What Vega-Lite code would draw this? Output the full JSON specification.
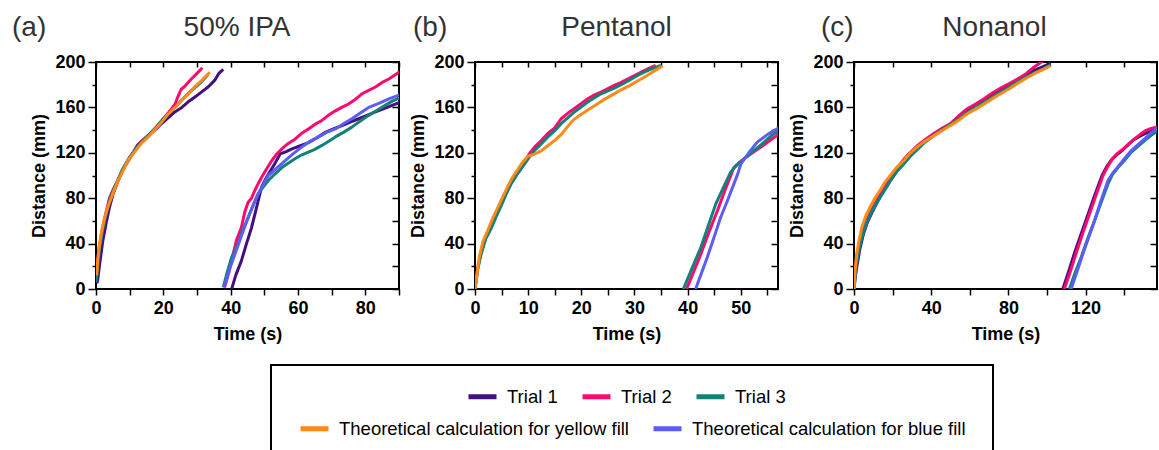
{
  "$schema": "https://vega.github.io/schema/vega-lite/v6.json",
  "background": "white",
  "padding": {"left": 11, "top": 12, "right": 1, "bottom": 0},
  "datasets": {
    "runs": [
      {"panel":"a","series":"Trial 1","fill":"yellow","time":0.3,"distance":5},
      {"panel":"a","series":"Trial 1","fill":"yellow","time":0.6,"distance":10},
      {"panel":"a","series":"Trial 1","fill":"yellow","time":1,"distance":20},
      {"panel":"a","series":"Trial 1","fill":"yellow","time":2,"distance":42},
      {"panel":"a","series":"Trial 1","fill":"yellow","time":3,"distance":58},
      {"panel":"a","series":"Trial 1","fill":"yellow","time":4,"distance":72},
      {"panel":"a","series":"Trial 1","fill":"yellow","time":5,"distance":83},
      {"panel":"a","series":"Trial 1","fill":"yellow","time":6.5,"distance":95},
      {"panel":"a","series":"Trial 1","fill":"yellow","time":8,"distance":105},
      {"panel":"a","series":"Trial 1","fill":"yellow","time":10,"distance":115},
      {"panel":"a","series":"Trial 1","fill":"yellow","time":12.4,"distance":127},
      {"panel":"a","series":"Trial 1","fill":"yellow","time":13.5,"distance":130},
      {"panel":"a","series":"Trial 1","fill":"yellow","time":15.4,"distance":135},
      {"panel":"a","series":"Trial 1","fill":"yellow","time":17.5,"distance":140},
      {"panel":"a","series":"Trial 1","fill":"yellow","time":19.4,"distance":145.6},
      {"panel":"a","series":"Trial 1","fill":"yellow","time":21.5,"distance":151},
      {"panel":"a","series":"Trial 1","fill":"yellow","time":23.4,"distance":156},
      {"panel":"a","series":"Trial 1","fill":"yellow","time":25.5,"distance":160},
      {"panel":"a","series":"Trial 1","fill":"yellow","time":27.3,"distance":164.7},
      {"panel":"a","series":"Trial 1","fill":"yellow","time":29.3,"distance":169},
      {"panel":"a","series":"Trial 1","fill":"yellow","time":31.3,"distance":173.5},
      {"panel":"a","series":"Trial 1","fill":"yellow","time":33.3,"distance":178},
      {"panel":"a","series":"Trial 1","fill":"yellow","time":35.3,"distance":184},
      {"panel":"a","series":"Trial 1","fill":"yellow","time":36.5,"distance":190},
      {"panel":"a","series":"Trial 1","fill":"yellow","time":37.8,"distance":193.5},
      {"panel":"a","series":"Trial 1","fill":"blue","time":40.3,"distance":0},
      {"panel":"a","series":"Trial 1","fill":"blue","time":41.5,"distance":12},
      {"panel":"a","series":"Trial 1","fill":"blue","time":43.2,"distance":25},
      {"panel":"a","series":"Trial 1","fill":"blue","time":44.7,"distance":40},
      {"panel":"a","series":"Trial 1","fill":"blue","time":46.2,"distance":54},
      {"panel":"a","series":"Trial 1","fill":"blue","time":47.7,"distance":72},
      {"panel":"a","series":"Trial 1","fill":"blue","time":49.2,"distance":90},
      {"panel":"a","series":"Trial 1","fill":"blue","time":50.2,"distance":96},
      {"panel":"a","series":"Trial 1","fill":"blue","time":51.2,"distance":101},
      {"panel":"a","series":"Trial 1","fill":"blue","time":53,"distance":110},
      {"panel":"a","series":"Trial 1","fill":"blue","time":54.7,"distance":119},
      {"panel":"a","series":"Trial 1","fill":"blue","time":56.5,"distance":121},
      {"panel":"a","series":"Trial 1","fill":"blue","time":58.2,"distance":123.5},
      {"panel":"a","series":"Trial 1","fill":"blue","time":60.5,"distance":126},
      {"panel":"a","series":"Trial 1","fill":"blue","time":63.1,"distance":129},
      {"panel":"a","series":"Trial 1","fill":"blue","time":65.5,"distance":133},
      {"panel":"a","series":"Trial 1","fill":"blue","time":68.1,"distance":138},
      {"panel":"a","series":"Trial 1","fill":"blue","time":70.5,"distance":141},
      {"panel":"a","series":"Trial 1","fill":"blue","time":73.1,"distance":144},
      {"panel":"a","series":"Trial 1","fill":"blue","time":75.5,"distance":147},
      {"panel":"a","series":"Trial 1","fill":"blue","time":78,"distance":150},
      {"panel":"a","series":"Trial 1","fill":"blue","time":80.5,"distance":153},
      {"panel":"a","series":"Trial 1","fill":"blue","time":83,"distance":156},
      {"panel":"a","series":"Trial 1","fill":"blue","time":86.5,"distance":160},
      {"panel":"a","series":"Trial 1","fill":"blue","time":90.5,"distance":164.7},
      {"panel":"a","series":"Trial 2","fill":"yellow","time":0,"distance":13},
      {"panel":"a","series":"Trial 2","fill":"yellow","time":0.5,"distance":26},
      {"panel":"a","series":"Trial 2","fill":"yellow","time":1,"distance":38},
      {"panel":"a","series":"Trial 2","fill":"yellow","time":2,"distance":55},
      {"panel":"a","series":"Trial 2","fill":"yellow","time":3,"distance":68},
      {"panel":"a","series":"Trial 2","fill":"yellow","time":4,"distance":80},
      {"panel":"a","series":"Trial 2","fill":"yellow","time":5,"distance":87},
      {"panel":"a","series":"Trial 2","fill":"yellow","time":6.5,"distance":96},
      {"panel":"a","series":"Trial 2","fill":"yellow","time":8,"distance":106},
      {"panel":"a","series":"Trial 2","fill":"yellow","time":10,"distance":116},
      {"panel":"a","series":"Trial 2","fill":"yellow","time":12,"distance":124},
      {"panel":"a","series":"Trial 2","fill":"yellow","time":13.5,"distance":130},
      {"panel":"a","series":"Trial 2","fill":"yellow","time":16,"distance":136},
      {"panel":"a","series":"Trial 2","fill":"yellow","time":18,"distance":143},
      {"panel":"a","series":"Trial 2","fill":"yellow","time":20,"distance":150},
      {"panel":"a","series":"Trial 2","fill":"yellow","time":22,"distance":157},
      {"panel":"a","series":"Trial 2","fill":"yellow","time":23.5,"distance":163},
      {"panel":"a","series":"Trial 2","fill":"yellow","time":24.4,"distance":170},
      {"panel":"a","series":"Trial 2","fill":"yellow","time":25.3,"distance":176},
      {"panel":"a","series":"Trial 2","fill":"yellow","time":26.5,"distance":179},
      {"panel":"a","series":"Trial 2","fill":"yellow","time":28.3,"distance":185},
      {"panel":"a","series":"Trial 2","fill":"yellow","time":30,"distance":190},
      {"panel":"a","series":"Trial 2","fill":"yellow","time":31.6,"distance":195},
      {"panel":"a","series":"Trial 2","fill":"blue","time":38.2,"distance":1.5},
      {"panel":"a","series":"Trial 2","fill":"blue","time":39.5,"distance":15},
      {"panel":"a","series":"Trial 2","fill":"blue","time":40.5,"distance":28},
      {"panel":"a","series":"Trial 2","fill":"blue","time":41.7,"distance":42.6},
      {"panel":"a","series":"Trial 2","fill":"blue","time":43.2,"distance":54.4},
      {"panel":"a","series":"Trial 2","fill":"blue","time":44.2,"distance":68},
      {"panel":"a","series":"Trial 2","fill":"blue","time":45.2,"distance":76.5},
      {"panel":"a","series":"Trial 2","fill":"blue","time":46.2,"distance":80},
      {"panel":"a","series":"Trial 2","fill":"blue","time":47.2,"distance":87},
      {"panel":"a","series":"Trial 2","fill":"blue","time":48.2,"distance":93},
      {"panel":"a","series":"Trial 2","fill":"blue","time":49.2,"distance":98.5},
      {"panel":"a","series":"Trial 2","fill":"blue","time":50.7,"distance":106},
      {"panel":"a","series":"Trial 2","fill":"blue","time":52.2,"distance":113},
      {"panel":"a","series":"Trial 2","fill":"blue","time":53.7,"distance":119},
      {"panel":"a","series":"Trial 2","fill":"blue","time":55.2,"distance":123.5},
      {"panel":"a","series":"Trial 2","fill":"blue","time":57,"distance":128},
      {"panel":"a","series":"Trial 2","fill":"blue","time":59.1,"distance":132},
      {"panel":"a","series":"Trial 2","fill":"blue","time":61,"distance":137},
      {"panel":"a","series":"Trial 2","fill":"blue","time":63.1,"distance":141},
      {"panel":"a","series":"Trial 2","fill":"blue","time":65,"distance":145},
      {"panel":"a","series":"Trial 2","fill":"blue","time":67.1,"distance":148.5},
      {"panel":"a","series":"Trial 2","fill":"blue","time":69,"distance":153},
      {"panel":"a","series":"Trial 2","fill":"blue","time":71.1,"distance":157},
      {"panel":"a","series":"Trial 2","fill":"blue","time":73,"distance":160},
      {"panel":"a","series":"Trial 2","fill":"blue","time":75,"distance":163},
      {"panel":"a","series":"Trial 2","fill":"blue","time":77,"distance":167},
      {"panel":"a","series":"Trial 2","fill":"blue","time":79,"distance":172},
      {"panel":"a","series":"Trial 2","fill":"blue","time":81,"distance":175},
      {"panel":"a","series":"Trial 2","fill":"blue","time":83,"distance":178},
      {"panel":"a","series":"Trial 2","fill":"blue","time":85,"distance":182},
      {"panel":"a","series":"Trial 2","fill":"blue","time":87,"distance":185},
      {"panel":"a","series":"Trial 2","fill":"blue","time":89,"distance":189},
      {"panel":"a","series":"Trial 2","fill":"blue","time":90.5,"distance":192},
      {"panel":"a","series":"Trial 3","fill":"yellow","time":0,"distance":6},
      {"panel":"a","series":"Trial 3","fill":"yellow","time":0.5,"distance":20},
      {"panel":"a","series":"Trial 3","fill":"yellow","time":1,"distance":35},
      {"panel":"a","series":"Trial 3","fill":"yellow","time":2,"distance":52},
      {"panel":"a","series":"Trial 3","fill":"yellow","time":3,"distance":66},
      {"panel":"a","series":"Trial 3","fill":"yellow","time":4,"distance":78},
      {"panel":"a","series":"Trial 3","fill":"yellow","time":5,"distance":86},
      {"panel":"a","series":"Trial 3","fill":"yellow","time":6.5,"distance":96},
      {"panel":"a","series":"Trial 3","fill":"yellow","time":8,"distance":106},
      {"panel":"a","series":"Trial 3","fill":"yellow","time":10,"distance":116},
      {"panel":"a","series":"Trial 3","fill":"yellow","time":12,"distance":124},
      {"panel":"a","series":"Trial 3","fill":"yellow","time":14,"distance":131},
      {"panel":"a","series":"Trial 3","fill":"yellow","time":16,"distance":137},
      {"panel":"a","series":"Trial 3","fill":"yellow","time":18,"distance":143},
      {"panel":"a","series":"Trial 3","fill":"yellow","time":20,"distance":150},
      {"panel":"a","series":"Trial 3","fill":"yellow","time":22,"distance":156},
      {"panel":"a","series":"Trial 3","fill":"yellow","time":24,"distance":162},
      {"panel":"a","series":"Trial 3","fill":"yellow","time":26,"distance":168},
      {"panel":"a","series":"Trial 3","fill":"yellow","time":28,"distance":174},
      {"panel":"a","series":"Trial 3","fill":"yellow","time":30,"distance":179},
      {"panel":"a","series":"Trial 3","fill":"yellow","time":31.5,"distance":183},
      {"panel":"a","series":"Trial 3","fill":"yellow","time":33.3,"distance":189},
      {"panel":"a","series":"Trial 3","fill":"blue","time":37.8,"distance":1.5},
      {"panel":"a","series":"Trial 3","fill":"blue","time":39,"distance":15},
      {"panel":"a","series":"Trial 3","fill":"blue","time":40.3,"distance":28},
      {"panel":"a","series":"Trial 3","fill":"blue","time":41.5,"distance":35},
      {"panel":"a","series":"Trial 3","fill":"blue","time":42.5,"distance":42},
      {"panel":"a","series":"Trial 3","fill":"blue","time":43.5,"distance":52},
      {"panel":"a","series":"Trial 3","fill":"blue","time":44.5,"distance":58},
      {"panel":"a","series":"Trial 3","fill":"blue","time":45.2,"distance":63},
      {"panel":"a","series":"Trial 3","fill":"blue","time":46.7,"distance":74},
      {"panel":"a","series":"Trial 3","fill":"blue","time":48.2,"distance":84},
      {"panel":"a","series":"Trial 3","fill":"blue","time":49.7,"distance":90},
      {"panel":"a","series":"Trial 3","fill":"blue","time":51.2,"distance":95.6},
      {"panel":"a","series":"Trial 3","fill":"blue","time":53.2,"distance":101.5},
      {"panel":"a","series":"Trial 3","fill":"blue","time":55.2,"distance":107},
      {"panel":"a","series":"Trial 3","fill":"blue","time":57.2,"distance":111},
      {"panel":"a","series":"Trial 3","fill":"blue","time":59.1,"distance":114.7},
      {"panel":"a","series":"Trial 3","fill":"blue","time":61,"distance":118},
      {"panel":"a","series":"Trial 3","fill":"blue","time":63.1,"distance":120.6},
      {"panel":"a","series":"Trial 3","fill":"blue","time":65,"distance":123},
      {"panel":"a","series":"Trial 3","fill":"blue","time":67.1,"distance":126.5},
      {"panel":"a","series":"Trial 3","fill":"blue","time":69,"distance":130},
      {"panel":"a","series":"Trial 3","fill":"blue","time":71.1,"distance":134},
      {"panel":"a","series":"Trial 3","fill":"blue","time":73.5,"distance":138},
      {"panel":"a","series":"Trial 3","fill":"blue","time":76,"distance":142.6},
      {"panel":"a","series":"Trial 3","fill":"blue","time":78.5,"distance":148},
      {"panel":"a","series":"Trial 3","fill":"blue","time":81,"distance":153},
      {"panel":"a","series":"Trial 3","fill":"blue","time":83.5,"distance":157.5},
      {"panel":"a","series":"Trial 3","fill":"blue","time":86,"distance":162},
      {"panel":"a","series":"Trial 3","fill":"blue","time":88,"distance":165.5},
      {"panel":"a","series":"Trial 3","fill":"blue","time":90.5,"distance":169},
      {"panel":"a","series":"Theoretical calculation for yellow fill","fill":"yellow","time":0.2,"distance":12},
      {"panel":"a","series":"Theoretical calculation for yellow fill","fill":"yellow","time":0.5,"distance":25},
      {"panel":"a","series":"Theoretical calculation for yellow fill","fill":"yellow","time":1,"distance":38},
      {"panel":"a","series":"Theoretical calculation for yellow fill","fill":"yellow","time":1.5,"distance":48},
      {"panel":"a","series":"Theoretical calculation for yellow fill","fill":"yellow","time":2.5,"distance":62},
      {"panel":"a","series":"Theoretical calculation for yellow fill","fill":"yellow","time":3.5,"distance":72},
      {"panel":"a","series":"Theoretical calculation for yellow fill","fill":"yellow","time":5,"distance":84},
      {"panel":"a","series":"Theoretical calculation for yellow fill","fill":"yellow","time":6.5,"distance":95},
      {"panel":"a","series":"Theoretical calculation for yellow fill","fill":"yellow","time":8,"distance":104},
      {"panel":"a","series":"Theoretical calculation for yellow fill","fill":"yellow","time":9.5,"distance":113},
      {"panel":"a","series":"Theoretical calculation for yellow fill","fill":"yellow","time":11.5,"distance":121},
      {"panel":"a","series":"Theoretical calculation for yellow fill","fill":"yellow","time":13.4,"distance":128},
      {"panel":"a","series":"Theoretical calculation for yellow fill","fill":"yellow","time":15.5,"distance":134},
      {"panel":"a","series":"Theoretical calculation for yellow fill","fill":"yellow","time":17.4,"distance":140},
      {"panel":"a","series":"Theoretical calculation for yellow fill","fill":"yellow","time":19.5,"distance":147},
      {"panel":"a","series":"Theoretical calculation for yellow fill","fill":"yellow","time":21.4,"distance":154},
      {"panel":"a","series":"Theoretical calculation for yellow fill","fill":"yellow","time":23.5,"distance":160},
      {"panel":"a","series":"Theoretical calculation for yellow fill","fill":"yellow","time":25.3,"distance":166},
      {"panel":"a","series":"Theoretical calculation for yellow fill","fill":"yellow","time":27.5,"distance":172},
      {"panel":"a","series":"Theoretical calculation for yellow fill","fill":"yellow","time":29.3,"distance":178},
      {"panel":"a","series":"Theoretical calculation for yellow fill","fill":"yellow","time":31.5,"distance":184},
      {"panel":"a","series":"Theoretical calculation for yellow fill","fill":"yellow","time":33.8,"distance":191},
      {"panel":"a","series":"Theoretical calculation for blue fill","fill":"blue","time":38,"distance":1.5},
      {"panel":"a","series":"Theoretical calculation for blue fill","fill":"blue","time":39.5,"distance":16},
      {"panel":"a","series":"Theoretical calculation for blue fill","fill":"blue","time":41.3,"distance":31},
      {"panel":"a","series":"Theoretical calculation for blue fill","fill":"blue","time":43.2,"distance":47},
      {"panel":"a","series":"Theoretical calculation for blue fill","fill":"blue","time":45.2,"distance":63},
      {"panel":"a","series":"Theoretical calculation for blue fill","fill":"blue","time":46.7,"distance":74},
      {"panel":"a","series":"Theoretical calculation for blue fill","fill":"blue","time":48.2,"distance":84},
      {"panel":"a","series":"Theoretical calculation for blue fill","fill":"blue","time":49.7,"distance":92},
      {"panel":"a","series":"Theoretical calculation for blue fill","fill":"blue","time":51.2,"distance":100},
      {"panel":"a","series":"Theoretical calculation for blue fill","fill":"blue","time":53.5,"distance":106},
      {"panel":"a","series":"Theoretical calculation for blue fill","fill":"blue","time":56.2,"distance":113},
      {"panel":"a","series":"Theoretical calculation for blue fill","fill":"blue","time":58.5,"distance":119},
      {"panel":"a","series":"Theoretical calculation for blue fill","fill":"blue","time":61.1,"distance":125},
      {"panel":"a","series":"Theoretical calculation for blue fill","fill":"blue","time":63.5,"distance":130},
      {"panel":"a","series":"Theoretical calculation for blue fill","fill":"blue","time":66.1,"distance":134},
      {"panel":"a","series":"Theoretical calculation for blue fill","fill":"blue","time":68.5,"distance":138},
      {"panel":"a","series":"Theoretical calculation for blue fill","fill":"blue","time":71.1,"distance":141},
      {"panel":"a","series":"Theoretical calculation for blue fill","fill":"blue","time":73.5,"distance":145.5},
      {"panel":"a","series":"Theoretical calculation for blue fill","fill":"blue","time":76,"distance":150},
      {"panel":"a","series":"Theoretical calculation for blue fill","fill":"blue","time":78.5,"distance":155},
      {"panel":"a","series":"Theoretical calculation for blue fill","fill":"blue","time":81,"distance":160},
      {"panel":"a","series":"Theoretical calculation for blue fill","fill":"blue","time":84,"distance":163.5},
      {"panel":"a","series":"Theoretical calculation for blue fill","fill":"blue","time":87,"distance":167.5},
      {"panel":"a","series":"Theoretical calculation for blue fill","fill":"blue","time":90.5,"distance":171.5},

      {"panel":"b","series":"Trial 2","fill":"yellow","time":0,"distance":0},
      {"panel":"b","series":"Trial 2","fill":"yellow","time":0.5,"distance":18},
      {"panel":"b","series":"Trial 2","fill":"yellow","time":1.1,"distance":31},
      {"panel":"b","series":"Trial 2","fill":"yellow","time":2,"distance":45},
      {"panel":"b","series":"Trial 2","fill":"yellow","time":3,"distance":54},
      {"panel":"b","series":"Trial 2","fill":"yellow","time":4,"distance":66},
      {"panel":"b","series":"Trial 2","fill":"yellow","time":4.9,"distance":75},
      {"panel":"b","series":"Trial 2","fill":"yellow","time":5.8,"distance":85},
      {"panel":"b","series":"Trial 2","fill":"yellow","time":6.8,"distance":94},
      {"panel":"b","series":"Trial 2","fill":"yellow","time":8,"distance":103},
      {"panel":"b","series":"Trial 2","fill":"yellow","time":9.3,"distance":112},
      {"panel":"b","series":"Trial 2","fill":"yellow","time":10.2,"distance":119},
      {"panel":"b","series":"Trial 2","fill":"yellow","time":11.2,"distance":125},
      {"panel":"b","series":"Trial 2","fill":"yellow","time":12.5,"distance":131},
      {"panel":"b","series":"Trial 2","fill":"yellow","time":13.7,"distance":137},
      {"panel":"b","series":"Trial 2","fill":"yellow","time":15,"distance":142},
      {"panel":"b","series":"Trial 2","fill":"yellow","time":16.2,"distance":150},
      {"panel":"b","series":"Trial 2","fill":"yellow","time":17.5,"distance":155},
      {"panel":"b","series":"Trial 2","fill":"yellow","time":18.7,"distance":159},
      {"panel":"b","series":"Trial 2","fill":"yellow","time":20,"distance":163.5},
      {"panel":"b","series":"Trial 2","fill":"yellow","time":21.2,"distance":167.6},
      {"panel":"b","series":"Trial 2","fill":"yellow","time":22.5,"distance":171},
      {"panel":"b","series":"Trial 2","fill":"yellow","time":23.7,"distance":173.5},
      {"panel":"b","series":"Trial 2","fill":"yellow","time":25,"distance":176.5},
      {"panel":"b","series":"Trial 2","fill":"yellow","time":26.2,"distance":179.4},
      {"panel":"b","series":"Trial 2","fill":"yellow","time":27.5,"distance":182},
      {"panel":"b","series":"Trial 2","fill":"yellow","time":28.7,"distance":185},
      {"panel":"b","series":"Trial 2","fill":"yellow","time":30,"distance":188},
      {"panel":"b","series":"Trial 2","fill":"yellow","time":31.2,"distance":191},
      {"panel":"b","series":"Trial 2","fill":"yellow","time":32.5,"distance":194},
      {"panel":"b","series":"Trial 2","fill":"yellow","time":34,"distance":197},
      {"panel":"b","series":"Trial 2","fill":"blue","time":39.8,"distance":0},
      {"panel":"b","series":"Trial 2","fill":"blue","time":41.2,"distance":16},
      {"panel":"b","series":"Trial 2","fill":"blue","time":42.5,"distance":31},
      {"panel":"b","series":"Trial 2","fill":"blue","time":44,"distance":50},
      {"panel":"b","series":"Trial 2","fill":"blue","time":45.6,"distance":69},
      {"panel":"b","series":"Trial 2","fill":"blue","time":47.1,"distance":88},
      {"panel":"b","series":"Trial 2","fill":"blue","time":48.7,"distance":107},
      {"panel":"b","series":"Trial 2","fill":"blue","time":49.6,"distance":111},
      {"panel":"b","series":"Trial 2","fill":"blue","time":50.6,"distance":114.7},
      {"panel":"b","series":"Trial 2","fill":"blue","time":52.2,"distance":120},
      {"panel":"b","series":"Trial 2","fill":"blue","time":53.8,"distance":125},
      {"panel":"b","series":"Trial 2","fill":"blue","time":55.5,"distance":131},
      {"panel":"b","series":"Trial 2","fill":"blue","time":57.5,"distance":137.5},
      {"panel":"b","series":"Trial 3","fill":"yellow","time":0,"distance":0},
      {"panel":"b","series":"Trial 3","fill":"yellow","time":0.5,"distance":17},
      {"panel":"b","series":"Trial 3","fill":"yellow","time":1.1,"distance":30},
      {"panel":"b","series":"Trial 3","fill":"yellow","time":2,"distance":44},
      {"panel":"b","series":"Trial 3","fill":"yellow","time":3,"distance":53},
      {"panel":"b","series":"Trial 3","fill":"yellow","time":4,"distance":64},
      {"panel":"b","series":"Trial 3","fill":"yellow","time":4.9,"distance":73},
      {"panel":"b","series":"Trial 3","fill":"yellow","time":5.8,"distance":83},
      {"panel":"b","series":"Trial 3","fill":"yellow","time":6.8,"distance":92.6},
      {"panel":"b","series":"Trial 3","fill":"yellow","time":8,"distance":101.5},
      {"panel":"b","series":"Trial 3","fill":"yellow","time":9.3,"distance":110},
      {"panel":"b","series":"Trial 3","fill":"yellow","time":10.2,"distance":116},
      {"panel":"b","series":"Trial 3","fill":"yellow","time":11.2,"distance":122},
      {"panel":"b","series":"Trial 3","fill":"yellow","time":12.5,"distance":128},
      {"panel":"b","series":"Trial 3","fill":"yellow","time":13.7,"distance":134},
      {"panel":"b","series":"Trial 3","fill":"yellow","time":15,"distance":139.5},
      {"panel":"b","series":"Trial 3","fill":"yellow","time":16.2,"distance":145.6},
      {"panel":"b","series":"Trial 3","fill":"yellow","time":17.5,"distance":151},
      {"panel":"b","series":"Trial 3","fill":"yellow","time":18.7,"distance":156},
      {"panel":"b","series":"Trial 3","fill":"yellow","time":20,"distance":160.5},
      {"panel":"b","series":"Trial 3","fill":"yellow","time":21.2,"distance":164.7},
      {"panel":"b","series":"Trial 3","fill":"yellow","time":22.5,"distance":168.5},
      {"panel":"b","series":"Trial 3","fill":"yellow","time":23.7,"distance":172},
      {"panel":"b","series":"Trial 3","fill":"yellow","time":25,"distance":174.5},
      {"panel":"b","series":"Trial 3","fill":"yellow","time":26.2,"distance":177},
      {"panel":"b","series":"Trial 3","fill":"yellow","time":27.5,"distance":180},
      {"panel":"b","series":"Trial 3","fill":"yellow","time":28.7,"distance":183},
      {"panel":"b","series":"Trial 3","fill":"yellow","time":30,"distance":186.5},
      {"panel":"b","series":"Trial 3","fill":"yellow","time":31.2,"distance":189.7},
      {"panel":"b","series":"Trial 3","fill":"yellow","time":33,"distance":193.5},
      {"panel":"b","series":"Trial 3","fill":"yellow","time":35,"distance":197},
      {"panel":"b","series":"Trial 3","fill":"blue","time":39.2,"distance":0},
      {"panel":"b","series":"Trial 3","fill":"blue","time":40.8,"distance":18},
      {"panel":"b","series":"Trial 3","fill":"blue","time":42.5,"distance":36.8},
      {"panel":"b","series":"Trial 3","fill":"blue","time":43.9,"distance":56},
      {"panel":"b","series":"Trial 3","fill":"blue","time":45.3,"distance":75},
      {"panel":"b","series":"Trial 3","fill":"blue","time":46.7,"distance":89},
      {"panel":"b","series":"Trial 3","fill":"blue","time":48.1,"distance":103},
      {"panel":"b","series":"Trial 3","fill":"blue","time":49,"distance":108},
      {"panel":"b","series":"Trial 3","fill":"blue","time":50,"distance":112},
      {"panel":"b","series":"Trial 3","fill":"blue","time":51.2,"distance":117},
      {"panel":"b","series":"Trial 3","fill":"blue","time":52.5,"distance":122},
      {"panel":"b","series":"Trial 3","fill":"blue","time":53.8,"distance":127},
      {"panel":"b","series":"Trial 3","fill":"blue","time":55,"distance":132},
      {"panel":"b","series":"Trial 3","fill":"blue","time":56,"distance":136},
      {"panel":"b","series":"Trial 3","fill":"blue","time":57.5,"distance":140.5},
      {"panel":"b","series":"Theoretical calculation for yellow fill","fill":"yellow","time":0,"distance":0},
      {"panel":"b","series":"Theoretical calculation for yellow fill","fill":"yellow","time":0.8,"distance":28},
      {"panel":"b","series":"Theoretical calculation for yellow fill","fill":"yellow","time":1.5,"distance":42},
      {"panel":"b","series":"Theoretical calculation for yellow fill","fill":"yellow","time":2.4,"distance":51.5},
      {"panel":"b","series":"Theoretical calculation for yellow fill","fill":"yellow","time":3.3,"distance":62},
      {"panel":"b","series":"Theoretical calculation for yellow fill","fill":"yellow","time":4.3,"distance":72},
      {"panel":"b","series":"Theoretical calculation for yellow fill","fill":"yellow","time":5.2,"distance":81},
      {"panel":"b","series":"Theoretical calculation for yellow fill","fill":"yellow","time":6.1,"distance":89.7},
      {"panel":"b","series":"Theoretical calculation for yellow fill","fill":"yellow","time":7,"distance":98},
      {"panel":"b","series":"Theoretical calculation for yellow fill","fill":"yellow","time":8,"distance":105},
      {"panel":"b","series":"Theoretical calculation for yellow fill","fill":"yellow","time":9,"distance":112},
      {"panel":"b","series":"Theoretical calculation for yellow fill","fill":"yellow","time":10,"distance":117},
      {"panel":"b","series":"Theoretical calculation for yellow fill","fill":"yellow","time":11,"distance":118.5},
      {"panel":"b","series":"Theoretical calculation for yellow fill","fill":"yellow","time":12.4,"distance":121.5},
      {"panel":"b","series":"Theoretical calculation for yellow fill","fill":"yellow","time":13.5,"distance":125.5},
      {"panel":"b","series":"Theoretical calculation for yellow fill","fill":"yellow","time":15,"distance":131},
      {"panel":"b","series":"Theoretical calculation for yellow fill","fill":"yellow","time":16.2,"distance":136},
      {"panel":"b","series":"Theoretical calculation for yellow fill","fill":"yellow","time":17.5,"distance":143.5},
      {"panel":"b","series":"Theoretical calculation for yellow fill","fill":"yellow","time":18.5,"distance":149},
      {"panel":"b","series":"Theoretical calculation for yellow fill","fill":"yellow","time":20,"distance":154},
      {"panel":"b","series":"Theoretical calculation for yellow fill","fill":"yellow","time":21.5,"distance":158.5},
      {"panel":"b","series":"Theoretical calculation for yellow fill","fill":"yellow","time":23,"distance":163},
      {"panel":"b","series":"Theoretical calculation for yellow fill","fill":"yellow","time":24.5,"distance":167.5},
      {"panel":"b","series":"Theoretical calculation for yellow fill","fill":"yellow","time":26,"distance":171.5},
      {"panel":"b","series":"Theoretical calculation for yellow fill","fill":"yellow","time":27.5,"distance":175.5},
      {"panel":"b","series":"Theoretical calculation for yellow fill","fill":"yellow","time":29,"distance":179},
      {"panel":"b","series":"Theoretical calculation for yellow fill","fill":"yellow","time":30.5,"distance":183},
      {"panel":"b","series":"Theoretical calculation for yellow fill","fill":"yellow","time":32,"distance":187},
      {"panel":"b","series":"Theoretical calculation for yellow fill","fill":"yellow","time":33.5,"distance":191.5},
      {"panel":"b","series":"Theoretical calculation for yellow fill","fill":"yellow","time":35.3,"distance":196.5},
      {"panel":"b","series":"Theoretical calculation for blue fill","fill":"blue","time":41.5,"distance":0},
      {"panel":"b","series":"Theoretical calculation for blue fill","fill":"blue","time":42.6,"distance":14},
      {"panel":"b","series":"Theoretical calculation for blue fill","fill":"blue","time":43.7,"distance":28},
      {"panel":"b","series":"Theoretical calculation for blue fill","fill":"blue","time":45,"distance":46},
      {"panel":"b","series":"Theoretical calculation for blue fill","fill":"blue","time":46.2,"distance":63},
      {"panel":"b","series":"Theoretical calculation for blue fill","fill":"blue","time":47.5,"distance":78},
      {"panel":"b","series":"Theoretical calculation for blue fill","fill":"blue","time":48.7,"distance":92.6},
      {"panel":"b","series":"Theoretical calculation for blue fill","fill":"blue","time":49.4,"distance":101},
      {"panel":"b","series":"Theoretical calculation for blue fill","fill":"blue","time":50,"distance":110},
      {"panel":"b","series":"Theoretical calculation for blue fill","fill":"blue","time":51.5,"distance":120},
      {"panel":"b","series":"Theoretical calculation for blue fill","fill":"blue","time":53.1,"distance":129.4},
      {"panel":"b","series":"Theoretical calculation for blue fill","fill":"blue","time":55,"distance":136},
      {"panel":"b","series":"Theoretical calculation for blue fill","fill":"blue","time":57.5,"distance":143},

      {"panel":"c","series":"Trial 1","fill":"yellow","time":0,"distance":0},
      {"panel":"c","series":"Trial 1","fill":"yellow","time":0.5,"distance":8},
      {"panel":"c","series":"Trial 1","fill":"yellow","time":1.4,"distance":19},
      {"panel":"c","series":"Trial 1","fill":"yellow","time":3,"distance":35},
      {"panel":"c","series":"Trial 1","fill":"yellow","time":4.9,"distance":48.5},
      {"panel":"c","series":"Trial 1","fill":"yellow","time":7,"distance":59},
      {"panel":"c","series":"Trial 1","fill":"yellow","time":9.5,"distance":68},
      {"panel":"c","series":"Trial 1","fill":"yellow","time":12.5,"distance":78},
      {"panel":"c","series":"Trial 1","fill":"yellow","time":15.5,"distance":87},
      {"panel":"c","series":"Trial 1","fill":"yellow","time":18.8,"distance":96},
      {"panel":"c","series":"Trial 1","fill":"yellow","time":22,"distance":104},
      {"panel":"c","series":"Trial 1","fill":"yellow","time":25.7,"distance":111},
      {"panel":"c","series":"Trial 1","fill":"yellow","time":29,"distance":118},
      {"panel":"c","series":"Trial 1","fill":"yellow","time":32.6,"distance":124},
      {"panel":"c","series":"Trial 1","fill":"yellow","time":36.5,"distance":130},
      {"panel":"c","series":"Trial 1","fill":"yellow","time":41.3,"distance":136},
      {"panel":"c","series":"Trial 1","fill":"yellow","time":45.5,"distance":141},
      {"panel":"c","series":"Trial 1","fill":"yellow","time":50,"distance":145.6},
      {"panel":"c","series":"Trial 1","fill":"yellow","time":54.5,"distance":152},
      {"panel":"c","series":"Trial 1","fill":"yellow","time":58.7,"distance":157},
      {"panel":"c","series":"Trial 1","fill":"yellow","time":63,"distance":161},
      {"panel":"c","series":"Trial 1","fill":"yellow","time":67.4,"distance":166},
      {"panel":"c","series":"Trial 1","fill":"yellow","time":71.5,"distance":170.5},
      {"panel":"c","series":"Trial 1","fill":"yellow","time":76,"distance":174.7},
      {"panel":"c","series":"Trial 1","fill":"yellow","time":80.5,"distance":179},
      {"panel":"c","series":"Trial 1","fill":"yellow","time":84.7,"distance":183.8},
      {"panel":"c","series":"Trial 1","fill":"yellow","time":89,"distance":187.5},
      {"panel":"c","series":"Trial 1","fill":"yellow","time":93.4,"distance":192.6},
      {"panel":"c","series":"Trial 1","fill":"yellow","time":98,"distance":196},
      {"panel":"c","series":"Trial 1","fill":"yellow","time":102,"distance":199},
      {"panel":"c","series":"Trial 1","fill":"blue","time":108.2,"distance":0},
      {"panel":"c","series":"Trial 1","fill":"blue","time":111.5,"distance":17},
      {"panel":"c","series":"Trial 1","fill":"blue","time":114.5,"distance":33},
      {"panel":"c","series":"Trial 1","fill":"blue","time":118,"distance":50},
      {"panel":"c","series":"Trial 1","fill":"blue","time":121.5,"distance":67},
      {"panel":"c","series":"Trial 1","fill":"blue","time":125,"distance":84},
      {"panel":"c","series":"Trial 1","fill":"blue","time":128.5,"distance":100},
      {"panel":"c","series":"Trial 1","fill":"blue","time":131,"distance":108},
      {"panel":"c","series":"Trial 1","fill":"blue","time":133.5,"distance":114},
      {"panel":"c","series":"Trial 1","fill":"blue","time":136,"distance":118},
      {"panel":"c","series":"Trial 1","fill":"blue","time":139,"distance":122},
      {"panel":"c","series":"Trial 1","fill":"blue","time":142,"distance":127},
      {"panel":"c","series":"Trial 1","fill":"blue","time":145,"distance":131.5},
      {"panel":"c","series":"Trial 1","fill":"blue","time":148,"distance":134.5},
      {"panel":"c","series":"Trial 1","fill":"blue","time":151,"distance":137},
      {"panel":"c","series":"Trial 1","fill":"blue","time":154,"distance":139.5},
      {"panel":"c","series":"Trial 1","fill":"blue","time":157.5,"distance":141.5},
      {"panel":"c","series":"Trial 2","fill":"yellow","time":0,"distance":0},
      {"panel":"c","series":"Trial 2","fill":"yellow","time":0.5,"distance":13},
      {"panel":"c","series":"Trial 2","fill":"yellow","time":1.4,"distance":28},
      {"panel":"c","series":"Trial 2","fill":"yellow","time":3,"distance":41},
      {"panel":"c","series":"Trial 2","fill":"yellow","time":4.9,"distance":52},
      {"panel":"c","series":"Trial 2","fill":"yellow","time":7,"distance":62},
      {"panel":"c","series":"Trial 2","fill":"yellow","time":9.5,"distance":71},
      {"panel":"c","series":"Trial 2","fill":"yellow","time":12.5,"distance":80},
      {"panel":"c","series":"Trial 2","fill":"yellow","time":15.5,"distance":89},
      {"panel":"c","series":"Trial 2","fill":"yellow","time":18.8,"distance":98},
      {"panel":"c","series":"Trial 2","fill":"yellow","time":22,"distance":106},
      {"panel":"c","series":"Trial 2","fill":"yellow","time":25.7,"distance":114},
      {"panel":"c","series":"Trial 2","fill":"yellow","time":29,"distance":120},
      {"panel":"c","series":"Trial 2","fill":"yellow","time":32.6,"distance":126},
      {"panel":"c","series":"Trial 2","fill":"yellow","time":36.5,"distance":131},
      {"panel":"c","series":"Trial 2","fill":"yellow","time":41.3,"distance":137},
      {"panel":"c","series":"Trial 2","fill":"yellow","time":45.5,"distance":141.5},
      {"panel":"c","series":"Trial 2","fill":"yellow","time":50,"distance":145.6},
      {"panel":"c","series":"Trial 2","fill":"yellow","time":54.5,"distance":153},
      {"panel":"c","series":"Trial 2","fill":"yellow","time":58.7,"distance":158.8},
      {"panel":"c","series":"Trial 2","fill":"yellow","time":63,"distance":163},
      {"panel":"c","series":"Trial 2","fill":"yellow","time":67.4,"distance":167.6},
      {"panel":"c","series":"Trial 2","fill":"yellow","time":71.5,"distance":172.5},
      {"panel":"c","series":"Trial 2","fill":"yellow","time":76,"distance":177},
      {"panel":"c","series":"Trial 2","fill":"yellow","time":80.5,"distance":181},
      {"panel":"c","series":"Trial 2","fill":"yellow","time":84.7,"distance":185},
      {"panel":"c","series":"Trial 2","fill":"yellow","time":89,"distance":189.5},
      {"panel":"c","series":"Trial 2","fill":"yellow","time":93.4,"distance":195.6},
      {"panel":"c","series":"Trial 2","fill":"yellow","time":97.7,"distance":200.6},
      {"panel":"c","series":"Trial 2","fill":"blue","time":109,"distance":0},
      {"panel":"c","series":"Trial 2","fill":"blue","time":112,"distance":15},
      {"panel":"c","series":"Trial 2","fill":"blue","time":115,"distance":31},
      {"panel":"c","series":"Trial 2","fill":"blue","time":118.5,"distance":49},
      {"panel":"c","series":"Trial 2","fill":"blue","time":122,"distance":66},
      {"panel":"c","series":"Trial 2","fill":"blue","time":125.5,"distance":83},
      {"panel":"c","series":"Trial 2","fill":"blue","time":129,"distance":100},
      {"panel":"c","series":"Trial 2","fill":"blue","time":131.5,"distance":108},
      {"panel":"c","series":"Trial 2","fill":"blue","time":134,"distance":115},
      {"panel":"c","series":"Trial 2","fill":"blue","time":136.5,"distance":119.5},
      {"panel":"c","series":"Trial 2","fill":"blue","time":139.5,"distance":123.5},
      {"panel":"c","series":"Trial 2","fill":"blue","time":142.5,"distance":128},
      {"panel":"c","series":"Trial 2","fill":"blue","time":145.5,"distance":132.5},
      {"panel":"c","series":"Trial 2","fill":"blue","time":148.5,"distance":136.5},
      {"panel":"c","series":"Trial 2","fill":"blue","time":151,"distance":139.5},
      {"panel":"c","series":"Trial 2","fill":"blue","time":154,"distance":141.5},
      {"panel":"c","series":"Trial 2","fill":"blue","time":157.5,"distance":143},
      {"panel":"c","series":"Trial 3","fill":"yellow","time":0,"distance":0},
      {"panel":"c","series":"Trial 3","fill":"yellow","time":0.5,"distance":10},
      {"panel":"c","series":"Trial 3","fill":"yellow","time":1.4,"distance":24},
      {"panel":"c","series":"Trial 3","fill":"yellow","time":3,"distance":38},
      {"panel":"c","series":"Trial 3","fill":"yellow","time":4.9,"distance":50},
      {"panel":"c","series":"Trial 3","fill":"yellow","time":7,"distance":60},
      {"panel":"c","series":"Trial 3","fill":"yellow","time":9.5,"distance":69},
      {"panel":"c","series":"Trial 3","fill":"yellow","time":12.5,"distance":78},
      {"panel":"c","series":"Trial 3","fill":"yellow","time":15.5,"distance":86},
      {"panel":"c","series":"Trial 3","fill":"yellow","time":18.8,"distance":95},
      {"panel":"c","series":"Trial 3","fill":"yellow","time":22,"distance":103},
      {"panel":"c","series":"Trial 3","fill":"yellow","time":25.7,"distance":110},
      {"panel":"c","series":"Trial 3","fill":"yellow","time":29,"distance":116.5},
      {"panel":"c","series":"Trial 3","fill":"yellow","time":32.6,"distance":122.5},
      {"panel":"c","series":"Trial 3","fill":"yellow","time":36.5,"distance":129},
      {"panel":"c","series":"Trial 3","fill":"yellow","time":41.3,"distance":135},
      {"panel":"c","series":"Trial 3","fill":"yellow","time":45.5,"distance":140},
      {"panel":"c","series":"Trial 3","fill":"yellow","time":50,"distance":145},
      {"panel":"c","series":"Trial 3","fill":"yellow","time":54.5,"distance":150.5},
      {"panel":"c","series":"Trial 3","fill":"yellow","time":58.7,"distance":155.5},
      {"panel":"c","series":"Trial 3","fill":"yellow","time":63,"distance":160},
      {"panel":"c","series":"Trial 3","fill":"yellow","time":67.4,"distance":164.5},
      {"panel":"c","series":"Trial 3","fill":"yellow","time":71.5,"distance":169},
      {"panel":"c","series":"Trial 3","fill":"yellow","time":76,"distance":173.5},
      {"panel":"c","series":"Trial 3","fill":"yellow","time":80.5,"distance":178},
      {"panel":"c","series":"Trial 3","fill":"yellow","time":84.7,"distance":182.5},
      {"panel":"c","series":"Trial 3","fill":"yellow","time":89,"distance":186.5},
      {"panel":"c","series":"Trial 3","fill":"yellow","time":93.4,"distance":190.5},
      {"panel":"c","series":"Trial 3","fill":"yellow","time":98,"distance":194},
      {"panel":"c","series":"Trial 3","fill":"yellow","time":102,"distance":197.5},
      {"panel":"c","series":"Trial 3","fill":"blue","time":111.6,"distance":0},
      {"panel":"c","series":"Trial 3","fill":"blue","time":114.5,"distance":14},
      {"panel":"c","series":"Trial 3","fill":"blue","time":117.7,"distance":28},
      {"panel":"c","series":"Trial 3","fill":"blue","time":121,"distance":44},
      {"panel":"c","series":"Trial 3","fill":"blue","time":124.6,"distance":60},
      {"panel":"c","series":"Trial 3","fill":"blue","time":128,"distance":76},
      {"panel":"c","series":"Trial 3","fill":"blue","time":131.6,"distance":92.6},
      {"panel":"c","series":"Trial 3","fill":"blue","time":134,"distance":101},
      {"panel":"c","series":"Trial 3","fill":"blue","time":136.8,"distance":107},
      {"panel":"c","series":"Trial 3","fill":"blue","time":140,"distance":113},
      {"panel":"c","series":"Trial 3","fill":"blue","time":143.7,"distance":120.6},
      {"panel":"c","series":"Trial 3","fill":"blue","time":147,"distance":125.5},
      {"panel":"c","series":"Trial 3","fill":"blue","time":150.7,"distance":131},
      {"panel":"c","series":"Trial 3","fill":"blue","time":154,"distance":135.5},
      {"panel":"c","series":"Trial 3","fill":"blue","time":157.5,"distance":139.5},
      {"panel":"c","series":"Theoretical calculation for yellow fill","fill":"yellow","time":0,"distance":0},
      {"panel":"c","series":"Theoretical calculation for yellow fill","fill":"yellow","time":0.5,"distance":15},
      {"panel":"c","series":"Theoretical calculation for yellow fill","fill":"yellow","time":1.4,"distance":31},
      {"panel":"c","series":"Theoretical calculation for yellow fill","fill":"yellow","time":2.6,"distance":43},
      {"panel":"c","series":"Theoretical calculation for yellow fill","fill":"yellow","time":4,"distance":54},
      {"panel":"c","series":"Theoretical calculation for yellow fill","fill":"yellow","time":6,"distance":64},
      {"panel":"c","series":"Theoretical calculation for yellow fill","fill":"yellow","time":8.3,"distance":72},
      {"panel":"c","series":"Theoretical calculation for yellow fill","fill":"yellow","time":10.8,"distance":80},
      {"panel":"c","series":"Theoretical calculation for yellow fill","fill":"yellow","time":13.5,"distance":86.8},
      {"panel":"c","series":"Theoretical calculation for yellow fill","fill":"yellow","time":16,"distance":94},
      {"panel":"c","series":"Theoretical calculation for yellow fill","fill":"yellow","time":18.8,"distance":100},
      {"panel":"c","series":"Theoretical calculation for yellow fill","fill":"yellow","time":22,"distance":107},
      {"panel":"c","series":"Theoretical calculation for yellow fill","fill":"yellow","time":25.7,"distance":113},
      {"panel":"c","series":"Theoretical calculation for yellow fill","fill":"yellow","time":29,"distance":119.5},
      {"panel":"c","series":"Theoretical calculation for yellow fill","fill":"yellow","time":32.6,"distance":125},
      {"panel":"c","series":"Theoretical calculation for yellow fill","fill":"yellow","time":36.5,"distance":130},
      {"panel":"c","series":"Theoretical calculation for yellow fill","fill":"yellow","time":41.3,"distance":135},
      {"panel":"c","series":"Theoretical calculation for yellow fill","fill":"yellow","time":45.5,"distance":139.5},
      {"panel":"c","series":"Theoretical calculation for yellow fill","fill":"yellow","time":50,"distance":144},
      {"panel":"c","series":"Theoretical calculation for yellow fill","fill":"yellow","time":54.5,"distance":149},
      {"panel":"c","series":"Theoretical calculation for yellow fill","fill":"yellow","time":58.7,"distance":154.4},
      {"panel":"c","series":"Theoretical calculation for yellow fill","fill":"yellow","time":63,"distance":158.5},
      {"panel":"c","series":"Theoretical calculation for yellow fill","fill":"yellow","time":67.4,"distance":163},
      {"panel":"c","series":"Theoretical calculation for yellow fill","fill":"yellow","time":71.5,"distance":167.5},
      {"panel":"c","series":"Theoretical calculation for yellow fill","fill":"yellow","time":76,"distance":172},
      {"panel":"c","series":"Theoretical calculation for yellow fill","fill":"yellow","time":80.5,"distance":176.5},
      {"panel":"c","series":"Theoretical calculation for yellow fill","fill":"yellow","time":84.7,"distance":181},
      {"panel":"c","series":"Theoretical calculation for yellow fill","fill":"yellow","time":89,"distance":185.5},
      {"panel":"c","series":"Theoretical calculation for yellow fill","fill":"yellow","time":93.4,"distance":189.7},
      {"panel":"c","series":"Theoretical calculation for yellow fill","fill":"yellow","time":97.5,"distance":193},
      {"panel":"c","series":"Theoretical calculation for yellow fill","fill":"yellow","time":101.7,"distance":196.5},
      {"panel":"c","series":"Theoretical calculation for blue fill","fill":"blue","time":112.5,"distance":0},
      {"panel":"c","series":"Theoretical calculation for blue fill","fill":"blue","time":115.5,"distance":15},
      {"panel":"c","series":"Theoretical calculation for blue fill","fill":"blue","time":118.6,"distance":31},
      {"panel":"c","series":"Theoretical calculation for blue fill","fill":"blue","time":121.5,"distance":45},
      {"panel":"c","series":"Theoretical calculation for blue fill","fill":"blue","time":124.6,"distance":60},
      {"panel":"c","series":"Theoretical calculation for blue fill","fill":"blue","time":128,"distance":78},
      {"panel":"c","series":"Theoretical calculation for blue fill","fill":"blue","time":131.6,"distance":95.6},
      {"panel":"c","series":"Theoretical calculation for blue fill","fill":"blue","time":134,"distance":102},
      {"panel":"c","series":"Theoretical calculation for blue fill","fill":"blue","time":136.5,"distance":107},
      {"panel":"c","series":"Theoretical calculation for blue fill","fill":"blue","time":140,"distance":114.5},
      {"panel":"c","series":"Theoretical calculation for blue fill","fill":"blue","time":143.7,"distance":122},
      {"panel":"c","series":"Theoretical calculation for blue fill","fill":"blue","time":147,"distance":127},
      {"panel":"c","series":"Theoretical calculation for blue fill","fill":"blue","time":150.7,"distance":132.4},
      {"panel":"c","series":"Theoretical calculation for blue fill","fill":"blue","time":154,"distance":137.5},
      {"panel":"c","series":"Theoretical calculation for blue fill","fill":"blue","time":157.5,"distance":142.6}
    ]
  },
  "data": {"name": "runs"},
  "bounds": "flush",
  "spacing": 76,
  "hconcat": [
    {
      "width": 303,
      "height": 227,
      "title": {"text": "(a)", "anchor": "start", "frame": "group", "dx": -84, "dy": 50, "baseline": "alphabetic", "offset": 0},
      "transform": [{"filter": "datum.panel === 'a'"}],
      "layer": [
        {
          "transform": [{"filter": "indexof(datum.series, 'Trial') === 0"}],
          "mark": {"type": "line", "strokeWidth": 3, "clip": true, "strokeJoin": "round"},
          "encoding": {
            "x": {"field": "time", "type": "quantitative", "scale": {"domain": [0, 90], "nice": false, "zero": false},
                  "axis": {"orient": "bottom", "values": [0, 10, 20, 30, 40, 50, 60, 70, 80, 90], "labelExpr": "datum.value % 20 === 0 ? datum.label : ''", "tickSize": 6, "title": "Time (s)"}},
            "y": {"field": "distance", "type": "quantitative", "scale": {"domain": [0, 200], "nice": false},
                  "axis": {"orient": "left", "values": [0, 20, 40, 60, 80, 100, 120, 140, 160, 180, 200], "labelExpr": "datum.value % 40 === 0 ? datum.label : ''", "tickSize": {"condition": {"test": "datum.value % 40 === 0", "value": 8}, "value": 4}, "title": "Distance (mm)"}},
            "stroke": {"field": "series", "type": "nominal",
                       "scale": {"domain": ["Trial 1", "Trial 2", "Trial 3"], "range": ["#44107F", "#FF0A6C", "#138079"]},
                       "legend": {"orient": "none", "legendX": 370, "legendY": 318, "direction": "horizontal", "title": null}},
            "detail": {"field": "fill"}
          }
        },
        {
          "transform": [{"filter": "indexof(datum.series, 'Trial') !== 0"}],
          "mark": {"type": "line", "strokeWidth": 3, "clip": true, "strokeJoin": "round"},
          "encoding": {
            "x": {"field": "time", "type": "quantitative",
                  "axis": {"orient": "top", "values": [0, 10, 20, 30, 40, 50, 60, 70, 80, 90], "labels": false, "tickSize": -5, "title": "50% IPA", "titleX": 140.5, "titleY": -26.5, "titleAngle": 0, "titleAlign": "center", "titleBaseline": "alphabetic", "titleFontSize": 28, "titleFontWeight": "normal", "titleColor": "#333"}},
            "y": {"field": "distance", "type": "quantitative",
                  "axis": {"orient": "right", "values": [0, 20, 40, 60, 80, 100, 120, 140, 160, 180, 200], "labels": false, "tickSize": -7, "title": null}},
            "color": {"field": "series", "type": "nominal",
                      "scale": {"domain": ["Theoretical calculation for yellow fill", "Theoretical calculation for blue fill"], "range": ["#FF8A17", "#5B5DF5"]},
                      "legend": {"orient": "none", "legendX": 175, "legendY": 303, "direction": "horizontal", "title": " ", "titleFontSize": 16, "titlePadding": 4, "padding": 27, "strokeColor": "#000"}},
            "detail": {"field": "fill"}
          }
        }
      ],
      "resolve": {"axis": {"x": "independent", "y": "independent"}}
    },
    {
      "width": 303,
      "height": 227,
      "title": {"text": "(b)", "anchor": "start", "frame": "group", "dx": -62, "dy": 50, "baseline": "alphabetic", "offset": 0},
      "transform": [{"filter": "datum.panel === 'b'"}],
      "layer": [
        {
          "transform": [{"filter": "indexof(datum.series, 'Trial') === 0"}],
          "mark": {"type": "line", "strokeWidth": 3, "clip": true, "strokeJoin": "round"},
          "encoding": {
            "x": {"field": "time", "type": "quantitative", "scale": {"domain": [0, 57], "nice": false, "zero": false},
                  "axis": {"orient": "bottom", "values": [0, 5, 10, 15, 20, 25, 30, 35, 40, 45, 50, 55], "labelExpr": "datum.value % 10 === 0 ? datum.label : ''", "tickSize": 6, "title": "Time (s)"}},
            "y": {"field": "distance", "type": "quantitative", "scale": {"domain": [0, 200], "nice": false},
                  "axis": {"orient": "left", "values": [0, 20, 40, 60, 80, 100, 120, 140, 160, 180, 200], "labelExpr": "datum.value % 40 === 0 ? datum.label : ''", "tickSize": {"condition": {"test": "datum.value % 40 === 0", "value": 8}, "value": 4}, "title": "Distance (mm)"}},
            "stroke": {"field": "series", "type": "nominal",
                       "scale": {"domain": ["Trial 1", "Trial 2", "Trial 3"], "range": ["#44107F", "#FF0A6C", "#138079"]}},
            "detail": {"field": "fill"}
          }
        },
        {
          "transform": [{"filter": "indexof(datum.series, 'Trial') !== 0"}],
          "mark": {"type": "line", "strokeWidth": 3, "clip": true, "strokeJoin": "round"},
          "encoding": {
            "x": {"field": "time", "type": "quantitative",
                  "axis": {"orient": "top", "values": [0, 5, 10, 15, 20, 25, 30, 35, 40, 45, 50, 55], "labels": false, "tickSize": -5, "title": "Pentanol", "titleX": 141, "titleY": -26.5, "titleAngle": 0, "titleAlign": "center", "titleBaseline": "alphabetic", "titleFontSize": 28, "titleFontWeight": "normal", "titleColor": "#333"}},
            "y": {"field": "distance", "type": "quantitative",
                  "axis": {"orient": "right", "values": [0, 20, 40, 60, 80, 100, 120, 140, 160, 180, 200], "labels": false, "tickSize": -7, "title": null}},
            "color": {"field": "series", "type": "nominal",
                      "scale": {"domain": ["Theoretical calculation for yellow fill", "Theoretical calculation for blue fill"], "range": ["#FF8A17", "#5B5DF5"]}},
            "detail": {"field": "fill"}
          }
        }
      ],
      "resolve": {"axis": {"x": "independent", "y": "independent"}}
    },
    {
      "width": 303,
      "height": 227,
      "title": {"text": "(c)", "anchor": "start", "frame": "group", "dx": -33, "dy": 50, "baseline": "alphabetic", "offset": 0},
      "transform": [{"filter": "datum.panel === 'c'"}],
      "layer": [
        {
          "transform": [{"filter": "indexof(datum.series, 'Trial') === 0"}],
          "mark": {"type": "line", "strokeWidth": 3, "clip": true, "strokeJoin": "round"},
          "encoding": {
            "x": {"field": "time", "type": "quantitative", "scale": {"domain": [0, 157], "nice": false, "zero": false},
                  "axis": {"orient": "bottom", "values": [0, 20, 40, 60, 80, 100, 120, 140], "labelExpr": "datum.value % 40 === 0 ? datum.label : ''", "tickSize": 6, "title": "Time (s)"}},
            "y": {"field": "distance", "type": "quantitative", "scale": {"domain": [0, 200], "nice": false},
                  "axis": {"orient": "left", "values": [0, 20, 40, 60, 80, 100, 120, 140, 160, 180, 200], "labelExpr": "datum.value % 40 === 0 ? datum.label : ''", "tickSize": {"condition": {"test": "datum.value % 40 === 0", "value": 8}, "value": 4}, "title": "Distance (mm)"}},
            "stroke": {"field": "series", "type": "nominal",
                       "scale": {"domain": ["Trial 1", "Trial 2", "Trial 3"], "range": ["#44107F", "#FF0A6C", "#138079"]}},
            "detail": {"field": "fill"}
          }
        },
        {
          "transform": [{"filter": "indexof(datum.series, 'Trial') !== 0"}],
          "mark": {"type": "line", "strokeWidth": 3, "clip": true, "strokeJoin": "round"},
          "encoding": {
            "x": {"field": "time", "type": "quantitative",
                  "axis": {"orient": "top", "values": [0, 20, 40, 60, 80, 100, 120, 140], "labels": false, "tickSize": -5, "title": "Nonanol", "titleX": 140, "titleY": -26.5, "titleAngle": 0, "titleAlign": "center", "titleBaseline": "alphabetic", "titleFontSize": 28, "titleFontWeight": "normal", "titleColor": "#333"}},
            "y": {"field": "distance", "type": "quantitative",
                  "axis": {"orient": "right", "values": [0, 20, 40, 60, 80, 100, 120, 140, 160, 180, 200], "labels": false, "tickSize": -7, "title": null}},
            "color": {"field": "series", "type": "nominal",
                      "scale": {"domain": ["Theoretical calculation for yellow fill", "Theoretical calculation for blue fill"], "range": ["#FF8A17", "#5B5DF5"]}},
            "detail": {"field": "fill"}
          }
        }
      ],
      "resolve": {"axis": {"x": "independent", "y": "independent"}}
    }
  ],
  "config": {
    "view": {"stroke": "#000", "strokeWidth": 2},
    "axis": {"domain": false, "grid": false, "tickColor": "#000", "tickWidth": 1.5, "labelFont": "Liberation Sans", "labelFontSize": 18, "labelFontWeight": "bold", "labelColor": "#000", "labelPadding": 3, "labelFlush": false, "labelOverlap": false, "titleFont": "Liberation Sans", "titleFontSize": 18, "titleFontWeight": "bold", "titleColor": "#000"},
    "axisLeft": {"titlePadding": 6},
    "axisBottom": {"labelPadding": 4, "titlePadding": 8},
    "title": {"font": "Liberation Sans", "fontSize": 28, "fontWeight": "normal", "color": "#333"},
    "legend": {"symbolType": "stroke", "symbolStrokeWidth": 5, "symbolSize": 784, "labelFont": "Liberation Sans", "labelFontSize": 18.5, "labelColor": "#000", "labelOffset": 8, "columnPadding": 14, "labelLimit": 0, "strokeWidth": 2, "titleFont": "Liberation Sans"}
  }
}
